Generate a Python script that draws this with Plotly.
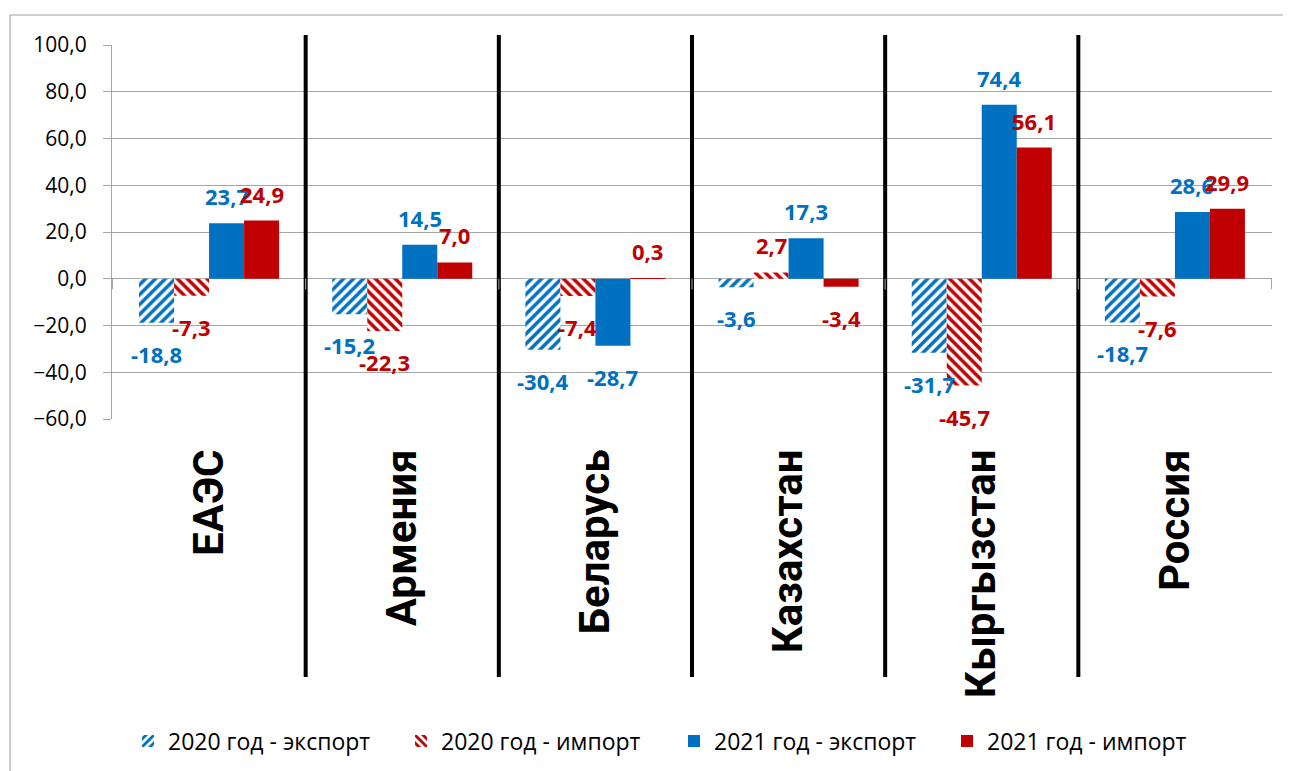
import plotly.graph_objects as go

categories = ["ЕАЭС", "Армения", "Беларусь", "Казахстан", "Кыргызстан", "Россия"]
export_2020 = [-18.8, -15.2, -30.4, -3.6, -31.7, -18.7]
import_2020 = [-7.3, -22.3, -7.4, 2.7, -45.7, -7.6]
export_2021 = [23.7, 14.5, -28.7, 17.3, 74.4, 28.6]
import_2021 = [24.9, 7.0, 0.3, -3.4, 56.1, 29.9]
series_names = ["2020 год - экспорт", "2020 год - импорт", "2021 год - экспорт", "2021 год - импорт"]
y_ticks = [-60, -40, -20, 0, 20, 40, 60, 80, 100]

BLUE = "#0070C0"
RED = "#C00000"
GRID = "#A6A6A6"

# page has an 8px body margin: figure drawn at (8, 8)
OFF = 8
W, H = 1291 - OFF, 771 - OFF
ML, MR, MT, MB = 112 - OFF, 19, 45 - OFF, 352
BARGAP = 0.275
plot_w = W - ML - MR
plot_h = H - MT - MB
bar_px = plot_w / len(categories) * (1 - BARGAP) / 4

series = [export_2020, import_2020, export_2021, import_2021]
colors = [BLUE, RED, BLUE, RED]
patterns = ["/", "\\", "", ""]

fig = go.Figure()
for name, vals, col, pat in zip(series_names, series, colors, patterns):
    if pat:
        marker = dict(color="white", line=dict(width=0),
                      pattern=dict(shape=pat, fgcolor=col, bgcolor="white",
                                   size=7, solidity=0.5, fillmode="replace"))
    else:
        marker = dict(color=col, line=dict(width=0))
    fig.add_trace(go.Bar(x=categories, y=vals, name=name, marker=marker))

def fmt(v):
    return f"{v:.1f}".replace(".", ",")

annotations = []
for i, (vals, col) in enumerate(zip(series, colors)):
    offset = (i - 1.5) * bar_px
    for cat, v in zip(categories, vals):
        pos = v >= 0
        annotations.append(dict(
            x=cat, y=v, xref="x", yref="y", text=fmt(v), showarrow=False,
            xshift=offset, yshift=10 if pos else -14,
            yanchor="bottom" if pos else "top",
            font=dict(family="Open Sans", size=22, color=col, weight="bold"),
        ))

def py(page_y):
    """page pixel y -> paper coordinate"""
    return (H - MB - (page_y - OFF)) / plot_h

def px(page_x):
    return (page_x - OFF - ML) / plot_w

shapes = []
# separator lines between countries
for k in range(1, len(categories)):
    shapes.append(dict(type="line", xref="x", yref="paper",
                       x0=k - 0.5, x1=k - 0.5, y0=py(677), y1=py(35),
                       line=dict(color="black", width=4)))
# category axis tick marks at zero
for k in range(len(categories) + 1):
    shapes.append(dict(type="line", xref="x", yref="y",
                       x0=k - 0.5, x1=k - 0.5, y0=0, y1=-4.5,
                       line=dict(color=GRID, width=1)))
# chart border (left and top edges visible)
shapes.append(dict(type="line", xref="paper", yref="paper",
                   x0=px(10), x1=px(10), y0=py(800), y1=py(15),
                   line=dict(color="#A0A0A0", width=1), layer="below"))
shapes.append(dict(type="line", xref="paper", yref="paper",
                   x0=px(10), x1=px(1300), y0=py(15), y1=py(15),
                   line=dict(color="#A0A0A0", width=1), layer="below"))

fig.update_layout(
    width=W, height=H,
    margin=dict(l=ML, r=MR, t=MT, b=MB),
    paper_bgcolor="white", plot_bgcolor="white",
    barmode="group", bargap=BARGAP, bargroupgap=0,
    separators=", ",
    showlegend=True,
    legend=dict(orientation="h", xref="container", yref="container",
                x=120 / W, y=1 - (741 - OFF) / H, xanchor="left", yanchor="middle",
                font=dict(family="Open Sans", size=23, color="black"),
                entrywidth=228, entrywidthmode="pixels",
                itemwidth=30, traceorder="normal"),
    annotations=annotations,
    shapes=shapes,
    xaxis=dict(type="category", tickangle=-90, showgrid=False, showline=False,
               ticks="", ticklabelstandoff=21,
               tickfont=dict(family="Roboto", size=42, color="black", weight="bold")),
    yaxis=dict(range=[-60, 100], tickvals=y_ticks, tickformat=".1f",
               showgrid=True, gridcolor=GRID, gridwidth=1,
               zeroline=False, showline=True, linecolor=GRID, linewidth=1,
               ticks="outside", ticklen=8, tickcolor=GRID, ticklabelstandoff=12,
               tickfont=dict(family="Open Sans", size=21, color="black")),
)

fig.write_html("out.html")
